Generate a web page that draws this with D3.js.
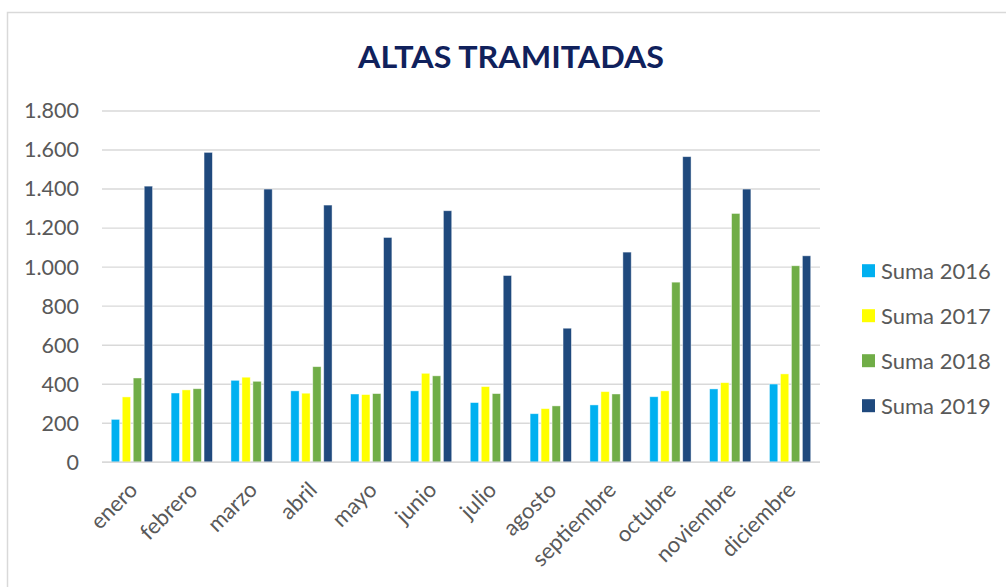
<!DOCTYPE html>
<html>
<head>
<meta charset="utf-8">
<script src="https://cdn.jsdelivr.net/npm/d3@7"></script>
<style>
  html, body { margin: 0; padding: 0; background: #fff; }
  svg { display: block; }
</style>
</head>
<body>
<svg id="chart" width="1006" height="587"></svg>
<script>
const months = ["enero","febrero","marzo","abril","mayo","junio","julio","agosto","septiembre","octubre","noviembre","diciembre"];
const seriesNames = ["Suma 2016","Suma 2017","Suma 2018","Suma 2019"];
const suma2016 = [220, 355, 420, 366, 350, 366, 306, 249, 294, 336, 376, 401];
const suma2017 = [335, 371, 436, 354, 347, 456, 388, 275, 362, 366, 408, 453];
const suma2018 = [432, 377, 415, 490, 352, 443, 352, 289, 350, 923, 1275, 1007];
const suma2019 = [1415, 1588, 1400, 1318, 1152, 1289, 957, 687, 1077, 1566, 1400, 1058];
const yTicks = [0, 200, 400, 600, 800, 1000, 1200, 1400, 1600, 1800];
const yTickLabels = ["0","200","400","600","800","1.000","1.200","1.400","1.600","1.800"];
const colors = ["#00B0F0", "#FFFF00", "#70AD47", "#1F497D"];

const seriesValues = [suma2016, suma2017, suma2018, suma2019];
const data = months.map((m, i) => ({ month: m, values: seriesValues.map((s, j) => ({ key: seriesNames[j], idx: j, value: s[i] })) }));

const svg = d3.select("#chart");
const font = "Lato, 'Open Sans', sans-serif";

// frame
svg.append("path")
  .attr("d", "M7.5,600 L7.5,12.5 L1010,12.5")
  .attr("fill", "none").attr("stroke", "#d9d9d9").attr("stroke-width", 1.5);

const plot = { left: 102, right: 820, top: 111, bottom: 462.3 };

const x0 = d3.scaleBand().domain(months).range([plot.left, plot.right]).paddingInner(0.31).paddingOuter(0.155);
const x1 = d3.scaleBand().domain(seriesNames).range([0, x0.bandwidth()]).paddingInner(0.24).paddingOuter(0);
const y = d3.scaleLinear().domain([0, 1800]).range([plot.bottom, plot.top]);

// title
svg.append("text")
  .attr("x", 511).attr("y", 68)
  .attr("text-anchor", "middle")
  .attr("font-family", font).attr("font-weight", "bold").attr("font-size", 31)
  .attr("textLength", 306).attr("lengthAdjust", "spacingAndGlyphs")
  .attr("fill", "#10215c")
  .text("ALTAS TRAMITADAS");

// gridlines
svg.append("g").selectAll("line").data(yTicks).join("line")
  .attr("x1", plot.left).attr("x2", plot.right)
  .attr("y1", d => y(d)).attr("y2", d => y(d))
  .attr("stroke", "#d9d9d9").attr("stroke-width", 1.4);

// y axis labels
const yAxis = d3.axisLeft(y).tickValues(yTicks).tickFormat((d, i) => yTickLabels[i]).tickSize(0).tickPadding(23);
const gy = svg.append("g").attr("transform", `translate(${plot.left},0)`).call(yAxis);
gy.select(".domain").remove();
gy.selectAll("text").attr("font-family", font).attr("font-size", 21.5).attr("fill", "#595959");

// bars
const groups = svg.append("g").selectAll("g").data(data).join("g")
  .attr("transform", d => `translate(${x0(d.month)},0)`);
groups.selectAll("rect").data(d => d.values).join("rect")
  .attr("x", d => x1(d.key))
  .attr("width", x1.bandwidth())
  .attr("y", d => y(d.value))
  .attr("height", d => y(0) - y(d.value))
  .attr("fill", d => colors[d.idx])
  .attr("stroke", "rgba(255,255,255,0.55)").attr("stroke-width", 0.8);

// baseline
svg.append("line")
  .attr("x1", plot.left).attr("x2", plot.right)
  .attr("y1", y(0)).attr("y2", y(0))
  .attr("stroke", "#d9d9d9").attr("stroke-width", 1.6);

// x labels
const xAxis = d3.axisBottom(x0).tickSize(0).tickPadding(0);
const gx = svg.append("g").attr("transform", `translate(0,${plot.bottom})`).call(xAxis);
gx.select(".domain").remove();
gx.selectAll("text")
  .attr("font-family", font).attr("font-size", 22).attr("fill", "#595959")
  .attr("text-anchor", "end")
  .attr("y", 0).attr("dy", 0)
  .attr("transform", "translate(7,29) rotate(-45)");

// legend
const legend = svg.append("g").selectAll("g").data(seriesNames).join("g")
  .attr("transform", (d, i) => `translate(862,${270.7 + i * 45})`);
legend.append("rect").attr("x", 0).attr("y", -6.5).attr("width", 13).attr("height", 13)
  .attr("fill", (d, i) => colors[i]);
legend.append("text").attr("x", 19).attr("y", 0).attr("dy", "0.36em")
  .attr("font-family", font).attr("font-size", 22).attr("fill", "#595959")
  .text(d => d);
</script>
</body>
</html>
